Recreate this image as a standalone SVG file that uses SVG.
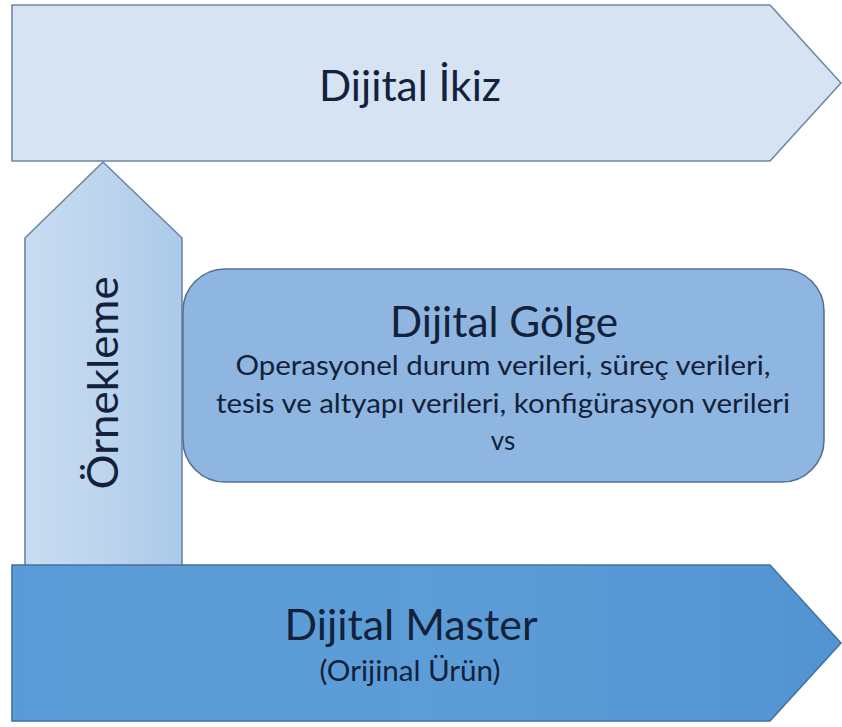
<svg xmlns="http://www.w3.org/2000/svg" width="842" height="727" viewBox="0 0 842 727">
  <defs>
    <linearGradient id="gVert" x1="0" y1="0" x2="1" y2="0">
      <stop offset="0" stop-color="#c9ddf2"/>
      <stop offset="0.45" stop-color="#bed5ee"/>
      <stop offset="1" stop-color="#abc9ea"/>
    </linearGradient>
    <linearGradient id="gMaster" x1="0" y1="0" x2="1" y2="0">
      <stop offset="0" stop-color="#5a9ad6"/>
      <stop offset="0.5" stop-color="#5d9dd7"/>
      <stop offset="1" stop-color="#5294d2"/>
    </linearGradient>
    <style>
      .lbl { font-family: Lato, "Open Sans", "Liberation Sans", sans-serif; fill: #13213a; text-anchor: middle; }
      .title { font-size: 42px; }
      .sub { font-size: 28px; }
      .body { font-size: 26px; }
      .shape { stroke-width: 1.6; }
    </style>
  </defs>
  <rect width="842" height="727" fill="#ffffff"/>

  <g id="connectors"/>

  <g id="ornekleme">
    <path class="shape" d="M25,238 L103,162 L182,238 L182,566 L25,566 Z" fill="url(#gVert)" stroke="#6a86a6"/>
    <text class="lbl" font-size="43" transform="translate(118,383) rotate(-90)" textLength="213" lengthAdjust="spacingAndGlyphs">Örnekleme</text>
  </g>

  <g id="dijital-ikiz">
    <path class="shape" d="M12,5 L770,5 L841,83 L770,161 L12,161 Z" fill="#d5e3f3" stroke="#6f87a3"/>
    <text class="lbl title" x="410" y="101" textLength="182" lengthAdjust="spacingAndGlyphs">Dijital İkiz</text>
  </g>

  <g id="dijital-golge">
    <rect class="shape" x="183" y="269" width="641" height="213" rx="42" ry="42" fill="#8fb6e1" stroke="#56718f"/>
    <text class="lbl title" x="504" y="337" textLength="228" lengthAdjust="spacingAndGlyphs">Dijital Gölge</text>
    <text class="lbl body" x="503" y="375" textLength="535" lengthAdjust="spacingAndGlyphs">Operasyonel durum verileri, süreç verileri,</text>
    <text class="lbl body" x="503" y="413" textLength="574" lengthAdjust="spacingAndGlyphs">tesis ve altyapı verileri, konfigürasyon verileri</text>
    <text class="lbl body" x="503" y="450">vs</text>
  </g>

  <g id="dijital-master">
    <path class="shape" d="M12,565 L770,565 L841,643 L770,721 L12,721 Z" fill="url(#gMaster)" stroke="#44729e"/>
    <text class="lbl title" x="411" y="640" textLength="253" lengthAdjust="spacingAndGlyphs">Dijital Master</text>
    <text class="lbl sub" x="410" y="681" textLength="181" lengthAdjust="spacingAndGlyphs">(Orijinal Ürün)</text>
  </g>
</svg>
